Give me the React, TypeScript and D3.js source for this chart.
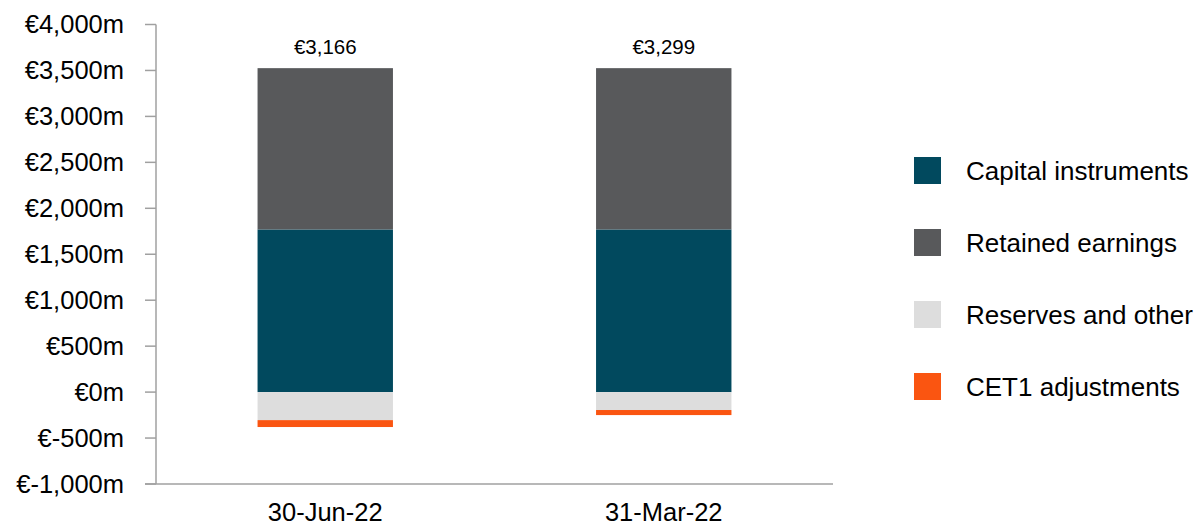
import React from "react";
import * as d3 from "d3";

const categories = ["30-Jun-22", "31-Mar-22"];
const seriesNames = ["Capital instruments", "Retained earnings", "Reserves and other", "CET1 adjustments"];
const seriesColors = ["#01495E", "#58595B", "#DDDDDD", "#FA5511"];
const capitalInstruments = [1770, 1770];
const retainedEarnings = [1755, 1755];
const reservesAndOther = [-305, -195];
const cet1Adjustments = [-75, -55];
const totalLabels = ["€3,166", "€3,299"];
const yTicks = [-1000, -500, 0, 500, 1000, 1500, 2000, 2500, 3000, 3500, 4000];

const W = 1200;
const H = 525;
const left = 156;
const right = 833;
const top = 24.5;
const bottom = 484;
const font = "Liberation Sans, Arial, sans-serif";

export default function App() {
  const x = d3.scaleBand<string>().domain(categories).range([left, right]).paddingInner(0.6).paddingOuter(0.3);
  const y = d3.scaleLinear().domain([-1000, 4000]).range([bottom, top]);
  const fmt = (v: number) => ("€" + d3.format(",")(v) + "m").replace("−", "-");

  const series = [capitalInstruments, retainedEarnings, reservesAndOther, cet1Adjustments];
  const bars: { x: number; y0: number; y1: number; color: string; key: string }[] = [];
  categories.forEach((c, i) => {
    let pos = 0;
    let neg = 0;
    series.forEach((s, k) => {
      const v = s[i];
      let a: number, b: number;
      if (v >= 0) {
        a = pos;
        b = pos + v;
        pos = b;
      } else {
        a = neg;
        b = neg + v;
        neg = b;
      }
      bars.push({ x: x(c)!, y0: y(Math.max(a, b)), y1: y(Math.min(a, b)), color: seriesColors[k], key: c + k });
    });
  });

  return (
    <svg width={W} height={H} style={{ position: "absolute", left: 0, top: 0, display: "block", background: "#fff" }}>
      {bars.map((b) => (
        <rect key={b.key} x={b.x} y={b.y0} width={x.bandwidth()} height={b.y1 - b.y0} fill={b.color} />
      ))}
      <line x1={left} x2={left} y1={top} y2={bottom} stroke="#A0A0A0" strokeWidth={1.5} />
      <line x1={145} x2={right} y1={bottom} y2={bottom} stroke="#A0A0A0" strokeWidth={1.5} />
      {yTicks.map((t) => (
        <g key={t}>
          <line x1={145} x2={left} y1={y(t)} y2={y(t)} stroke="#A0A0A0" strokeWidth={1.5} />
          <text x={124} y={y(t)} dy="0.35em" textAnchor="end" fontFamily={font} fontSize={25.5} fill="#000">
            {fmt(t)}
          </text>
        </g>
      ))}
      {categories.map((c, i) => (
        <g key={c}>
          <text x={x(c)! + x.bandwidth() / 2} y={521} textAnchor="middle" fontFamily={font} fontSize={25.5} fill="#000">
            {c}
          </text>
          <text
            x={x(c)! + x.bandwidth() / 2}
            y={y(capitalInstruments[i] + retainedEarnings[i]) - 14}
            textAnchor="middle"
            fontFamily={font}
            fontSize={20.5}
            fill="#000"
          >
            {totalLabels[i]}
          </text>
        </g>
      ))}
      {seriesNames.map((n, k) => (
        <g key={n}>
          <rect x={914} y={157 + k * 72} width={27} height={27} fill={seriesColors[k]} />
          <text x={966} y={170.5 + k * 72} dy="0.35em" fontFamily={font} fontSize={26} fill="#000">
            {n}
          </text>
        </g>
      ))}
    </svg>
  );
}
